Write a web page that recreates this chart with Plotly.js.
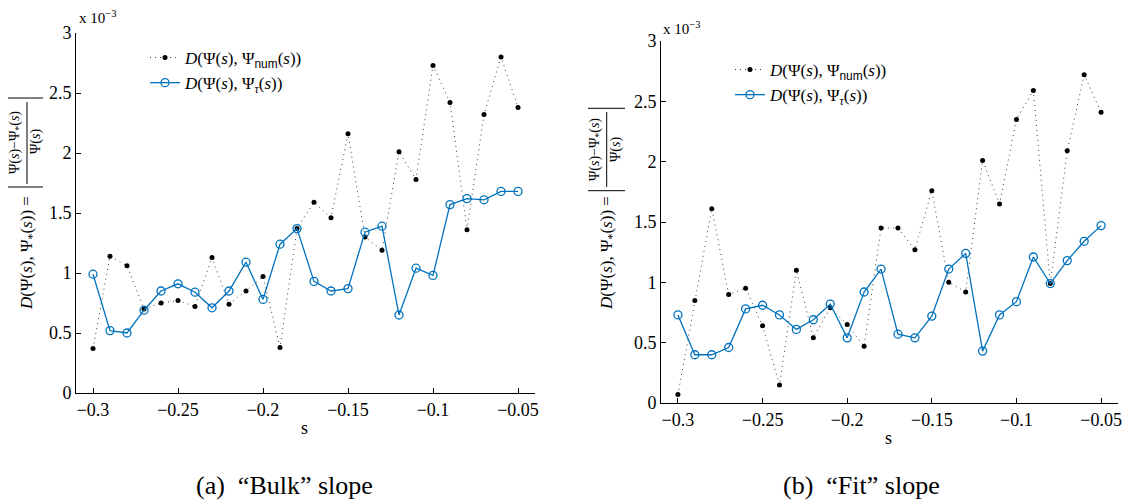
<!DOCTYPE html>
<html><head><meta charset="utf-8">
<script src="https://cdn.plot.ly/plotly-3.0.1.min.js"></script>
<style>html,body{margin:0;padding:0;background:#fff}#chart{width:1125px;height:500px}</style>
</head><body><div id="chart"></div>
<script>
// s values
const s = [-0.30,-0.29,-0.28,-0.27,-0.26,-0.25,-0.24,-0.23,-0.22,-0.21,-0.20,-0.19,-0.18,-0.17,-0.16,-0.15,-0.14,-0.13,-0.12,-0.11,-0.10,-0.09,-0.08,-0.07,-0.06,-0.05];
// values in units of 1e-3
const bulkNum = [0.37,1.14,1.06,0.70,0.75,0.77,0.72,1.13,0.74,0.85,0.97,0.38,1.37,1.59,1.46,2.16,1.30,1.19,2.01,1.78,2.73,2.42,1.36,2.32,2.80,2.38];
const bulkTau = [0.99,0.52,0.50,0.69,0.85,0.91,0.84,0.71,0.85,1.09,0.78,1.24,1.37,0.93,0.85,0.87,1.34,1.39,0.65,1.04,0.98,1.57,1.62,1.61,1.68,1.68];
const fitNum = [0.07,0.85,1.61,0.90,0.95,0.64,0.15,1.10,0.54,0.79,0.65,0.47,1.45,1.45,1.27,1.76,1.00,0.92,2.01,1.65,2.35,2.59,0.99,2.09,2.72,2.41];
const fitTau = [0.73,0.40,0.40,0.46,0.78,0.81,0.73,0.61,0.69,0.82,0.54,0.92,1.11,0.57,0.54,0.72,1.11,1.24,0.43,0.73,0.84,1.21,0.99,1.18,1.34,1.47];
const captions = ['(a)&nbsp;&nbsp;“Bulk” slope', '(b)&nbsp;&nbsp;“Fit” slope'];
const nameNum = '<i>D</i>(Ψ(<i>s</i>), Ψ<sub><span style="font-family:\'Liberation Sans\',sans-serif">num</span></sub>(<i>s</i>))';
const nameTau = '<i>D</i>(Ψ(<i>s</i>), Ψ<sub><i>τ</i></sub>(<i>s</i>))';

const W = 1125, H = 500;
const X = p => p / W, Y = p => 1 - p / H;
const FONT = '"Liberation Serif", "Times New Roman", serif';
const BLUE = '#0072BD';

function numTrace(y, xa, ya, lg) {
  return {x: s, y: y, xaxis: xa, yaxis: ya, legend: lg, name: nameNum, type: 'scatter', mode: 'lines+markers',
    line: {color: 'rgb(60,60,60)', width: 1, dash: '1px,4px'}, marker: {color: 'black', size: 5, symbol: 'circle'}};
}
function tauTrace(y, xa, ya, lg) {
  return {x: s, y: y, xaxis: xa, yaxis: ya, legend: lg, name: nameTau, type: 'scatter', mode: 'lines+markers',
    line: {color: BLUE, width: 1.3}, marker: {color: BLUE, size: 8, symbol: 'circle-open', line: {width: 1.3, color: BLUE}}};
}
const data = [
  numTrace(bulkNum, 'x', 'y', 'legend'), tauTrace(bulkTau, 'x', 'y', 'legend'),
  numTrace(fitNum, 'x2', 'y2', 'legend2'), tauTrace(fitTau, 'x2', 'y2', 'legend2')
];

function xax(dom, anchor) {
  return {domain: dom, anchor: anchor, range: [-0.31, -0.04], tick0: -0.3, dtick: 0.05, showline: true, linecolor: 'black', linewidth: 1,
    ticks: 'inside', ticklen: 5, tickcolor: 'black', showgrid: false, zeroline: false, tickfont: {family: FONT, size: 18, color: 'black'}};
}
function yax(dom, anchor) {
  return {domain: dom, anchor: anchor, range: [0, 3], dtick: 0.5, showline: true, linecolor: 'black', linewidth: 1,
    ticks: 'inside', ticklen: 5, tickcolor: 'black', showgrid: false, zeroline: false, tickfont: {family: FONT, size: 18, color: 'black'}};
}

function ann(text, x, y, size, extra) {
  return Object.assign({text: text, xref: 'paper', yref: 'paper', x: X(x), y: Y(y), showarrow: false,
    font: {family: FONT, size: size, color: 'black'}, xanchor: 'center', yanchor: 'middle'}, extra || {});
}
function line(x0, y0, x1, y1) {
  return {type: 'line', xref: 'paper', yref: 'paper', x0: X(x0), y0: Y(y0), x1: X(x1), y1: Y(y1), line: {color: 'black', width: 1}};
}
const mainLab = '<i>D</i>(Ψ(<i>s</i>), Ψ<sub>*</sub>(<i>s</i>)) =';
const numer = 'Ψ(<i>s</i>)−Ψ<sub>*</sub>(<i>s</i>)';
const denom = 'Ψ(<i>s</i>)';

const annotations = [
  // left panel
  ann(mainLab, 28, 253, 17, {textangle: -90}),
  ann(numer, 15, 143, 14, {textangle: -90}),
  ann(denom, 36, 142, 14, {textangle: -90}),
  ann('x 10<sup>−3</sup>', 77, 17, 15, {xanchor: 'left'}),
  ann('s', 304, 428, 18),
  ann(captions[0], 284, 485, 26),
  // right panel
  ann(mainLab, 608, 253, 17, {textangle: -90}),
  ann(numer, 595, 150, 14, {textangle: -90}),
  ann(denom, 616, 150, 14, {textangle: -90}),
  ann('x 10<sup>−3</sup>', 661, 28, 15, {xanchor: 'left'}),
  ann('s', 888, 438, 18),
  ann(captions[1], 861, 485, 26)
];
const shapes = [
  line(8, 187, 43, 187), line(8, 98, 43, 98), line(27, 102, 27, 184),
  line(588, 190.7, 625, 190.7), line(588, 108.3, 625, 108.3), line(606.7, 112, 606.7, 187)
];

const layout = {
  width: W, height: H, margin: {l: 0, r: 0, t: 0, b: 0}, paper_bgcolor: 'white', plot_bgcolor: 'white',
  font: {family: FONT, color: 'black'},
  xaxis: xax([X(76), X(535)], 'y'), yaxis: yax([Y(393), Y(33)], 'x'),
  xaxis2: xax([X(661), X(1118)], 'y2'), yaxis2: yax([Y(403), Y(41)], 'x2'),
  legend: {x: X(145), y: Y(40), xanchor: 'left', yanchor: 'top', bgcolor: 'rgba(0,0,0,0)', font: {family: FONT, size: 17, color: 'black'}, tracegroupgap: 0},
  legend2: {x: X(730), y: Y(52), xanchor: 'left', yanchor: 'top', bgcolor: 'rgba(0,0,0,0)', font: {family: FONT, size: 17, color: 'black'}, tracegroupgap: 0},
  annotations: annotations, shapes: shapes, showlegend: true
};
Plotly.newPlot('chart', data, layout, {displayModeBar: false, staticPlot: true});
</script></body></html>
